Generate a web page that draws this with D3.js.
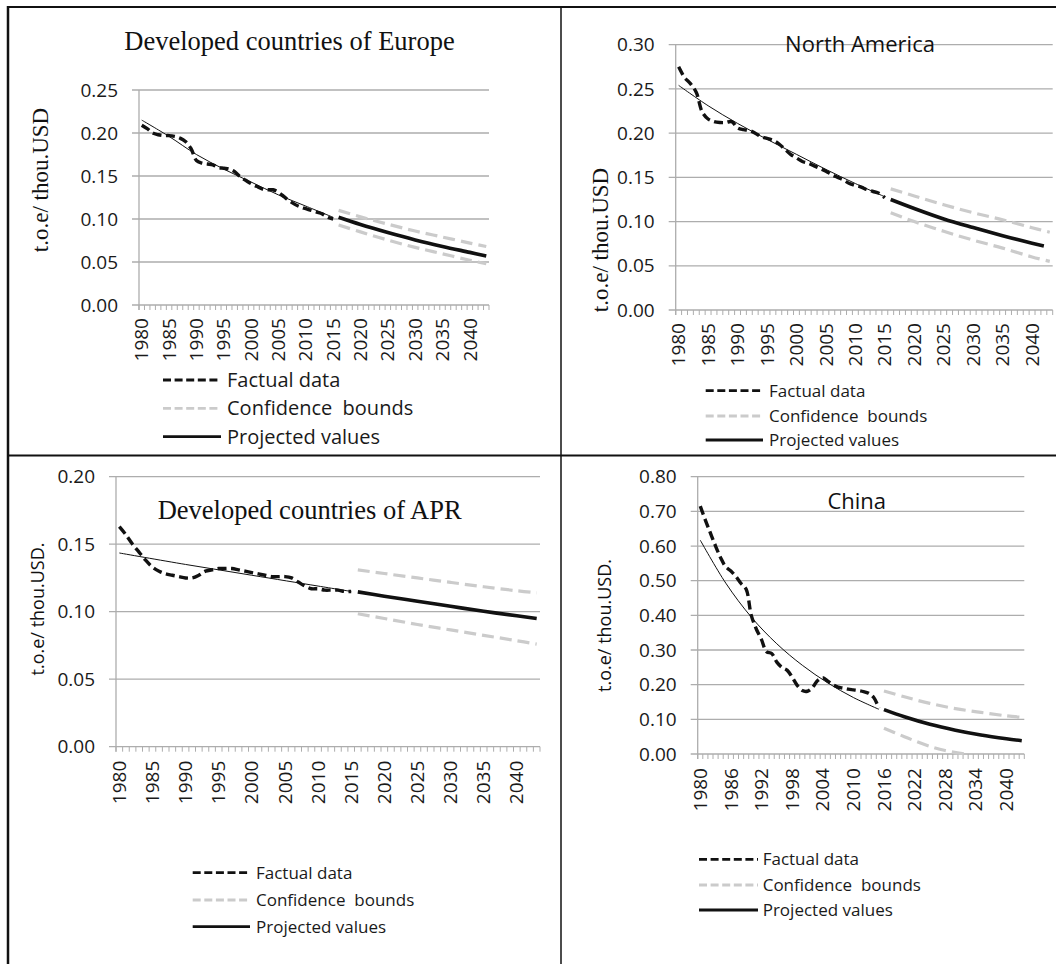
<!DOCTYPE html>
<html><head><meta charset="utf-8">
<script src="https://cdn.jsdelivr.net/npm/d3@7"></script>
<style>
body{margin:0;background:#fff}
svg{display:block}
text{font-family:"Open Sans",sans-serif;fill:#1a1a1a}
</style>
</head><body>
<svg id="chart" width="1056" height="964"></svg>
<script>
// ---------- data ----------
const categories = d3.range(1980, 2044);
const yearTicks5 = [1980,1985,1990,1995,2000,2005,2010,2015,2020,2025,2030,2035,2040];
const yearTicks6 = [1980,1986,1992,1998,2004,2010,2016,2022,2028,2034,2040];
const yTicksEurope = [0,0.05,0.10,0.15,0.20,0.25];
const yTicksNA = [0,0.05,0.10,0.15,0.20,0.25,0.30];
const yTicksAPR = [0,0.05,0.10,0.15,0.20];
const yTicksChina = [0,0.10,0.20,0.30,0.40,0.50,0.60,0.70,0.80];
const legendLabels = ["Factual data","Confidence  bounds","Projected values"];

// factual data, one value per year from 1980 to 2015
const europeFactual = [0.209,0.205,0.200,0.198,0.197,0.197,0.196,0.194,0.190,0.182,
  0.168,0.165,0.164,0.163,0.160,0.159,0.158,0.155,0.149,0.145,
  0.141,0.138,0.135,0.134,0.134,0.131,0.126,0.121,0.117,0.114,
  0.112,0.110,0.108,0.106,0.102,0.100];
const naFactual = [0.275,0.263,0.256,0.246,0.224,0.216,0.213,0.212,0.212,0.213,
  0.206,0.204,0.203,0.200,0.196,0.194,0.192,0.188,0.182,0.176,
  0.172,0.168,0.166,0.163,0.160,0.157,0.153,0.150,0.147,0.143,
  0.141,0.139,0.136,0.134,0.132,0.127];
const aprFactual = [0.163,0.157,0.150,0.144,0.138,0.133,0.130,0.128,0.127,0.126,
  0.125,0.125,0.127,0.130,0.131,0.132,0.132,0.132,0.131,0.130,
  0.129,0.128,0.127,0.126,0.126,0.126,0.125,0.122,0.119,0.117,
  0.117,0.116,0.116,0.116,0.115,0.115];
const chinaFactual = [0.715,0.675,0.637,0.600,0.566,0.540,0.528,0.512,0.492,0.475,
  0.400,0.360,0.330,0.295,0.290,0.265,0.250,0.242,0.222,0.198,
  0.183,0.181,0.192,0.212,0.220,0.210,0.200,0.193,0.190,0.187,
  0.185,0.183,0.180,0.175,0.163,0.132];

// fitted trend over the factual period [year, value]
const europeTrend = [[1980,0.215],[1985,0.196],[1990,0.175],[1995,0.158],[2000,0.143],[2005,0.128],[2010,0.115],[2015,0.102]];
const naTrend = [[1980,0.254],[1985,0.231],[1990,0.211],[1995,0.193],[2000,0.176],[2005,0.159],[2010,0.143],[2015,0.128]];
const aprTrend = [[1980,0.1435],[1990,0.135],[2000,0.127],[2010,0.119],[2015,0.115]];
const chinaTrend = [[1980,0.617],[1985,0.493],[1990,0.395],[1995,0.318],[2000,0.256],[2005,0.205],[2010,0.163],[2015,0.129]];

// projections and confidence bounds [year, value]
const europeProjected = [[2016,0.102],[2020,0.0936],[2025,0.0843],[2030,0.0757],[2035,0.0681],[2040,0.0612],[2043,0.057]];
const europeUpper = [[2016,0.110],[2020,0.1025],[2025,0.094],[2030,0.086],[2035,0.079],[2040,0.072],[2043,0.068]];
const europeLower = [[2016,0.093],[2020,0.085],[2025,0.0755],[2030,0.067],[2035,0.0595],[2040,0.052],[2043,0.048]];

const naProjected = [[2016,0.125],[2020,0.1148],[2025,0.103],[2030,0.0932],[2035,0.084],[2040,0.0755],[2042,0.0724]];
const naUpper = [[2016,0.137],[2020,0.129],[2025,0.119],[2030,0.110],[2035,0.102],[2040,0.093],[2043,0.088]];
const naLower = [[2016,0.110],[2020,0.100],[2025,0.089],[2030,0.079],[2035,0.070],[2040,0.060],[2043,0.055]];

const aprProjected = [[2016,0.1147],[2020,0.1115],[2025,0.1077],[2030,0.104],[2035,0.1003],[2040,0.097],[2043,0.095]];
const aprUpper = [[2016,0.131],[2020,0.1283],[2025,0.125],[2030,0.1217],[2035,0.1185],[2040,0.1155],[2043,0.114]];
const aprLower = [[2016,0.0985],[2020,0.095],[2025,0.0905],[2030,0.0865],[2035,0.0825],[2040,0.0785],[2043,0.076]];

const chinaProjected = [[2016,0.128],[2020,0.1073],[2025,0.0856],[2030,0.0687],[2035,0.0549],[2040,0.044],[2043,0.0384]];
const chinaUpper = [[2016,0.182],[2020,0.165],[2025,0.146],[2030,0.131],[2035,0.120],[2040,0.110],[2043,0.106]];
const chinaLower = [[2016,0.074],[2018,0.062],[2020,0.050],[2022,0.038],[2025,0.022],[2028,0.010],[2032,0.0]];

// ---------- drawing ----------
const svg = d3.select("#chart");
const SERIF = '"Liberation Serif","Times New Roman",serif';
const SANS = '"Open Sans",sans-serif';
const GRID = "#adadad";
const BOUND = "#cbcbcb";

function drawPanel(p) {
  const g = svg.append("g");
  const band = d3.scaleBand().domain(categories).range([p.x0, p.x1]);
  const x = d3.scalePoint().domain(categories).range([p.x0, p.x1]).padding(0.5);
  const y = d3.scaleLinear().domain([0, p.yMax]).range([p.yBot, p.yTop]);

  // gridlines + major ticks
  g.selectAll(".grid").data(p.yTicks).join("line")
    .attr("x1", p.x0 - 7).attr("x2", p.x1)
    .attr("y1", d => y(d)).attr("y2", d => y(d))
    .attr("stroke", GRID).attr("stroke-width", 1.3);
  // y axis line
  g.append("line").attr("x1", p.x0).attr("x2", p.x0)
    .attr("y1", y(p.yMax)).attr("y2", y(0) + 5)
    .attr("stroke", GRID).attr("stroke-width", 1.3);
  // minor category ticks
  const bounds = categories.map(c => band(c)).concat([p.x1]);
  g.selectAll(".mt").data(bounds).join("line")
    .attr("x1", d => d).attr("x2", d => d)
    .attr("y1", y(0)).attr("y2", y(0) + 5)
    .attr("stroke", GRID).attr("stroke-width", 1);
  // y tick labels
  g.selectAll(".yl").data(p.yTicks).join("text")
    .attr("x", p.x0 - 21).attr("y", d => y(d)).attr("dy", "0.35em")
    .attr("text-anchor", "end").style("font-size", "19px")
    .text(d => d3.format(".2f")(d));
  // x tick labels
  g.selectAll(".xl").data(p.xTicks).join("text")
    .attr("transform", d => `translate(${x(d)},${y(0) + p.xGap}) rotate(-90)`)
    .attr("dy", "0.35em").attr("text-anchor", "end").style("font-size", "19px")
    .text(d => d);

  const smooth = d3.line().x(d => x(d[0])).y(d => y(d[1])).curve(d3.curveCatmullRom.alpha(0.5));
  const factualPts = p.factual.map((v, i) => [categories[i], v]);

  // trend
  g.append("path").attr("d", smooth(p.trend)).attr("fill", "none")
    .attr("stroke", "#111").attr("stroke-width", 1);
  // factual
  g.append("path").attr("d", smooth(factualPts)).attr("fill", "none")
    .attr("stroke", "#111").attr("stroke-width", 3.4).attr("stroke-dasharray", "9,4.5");
  // bounds
  [p.upper, p.lower].forEach(b => {
    g.append("path").attr("d", smooth(b)).attr("fill", "none")
      .attr("stroke", BOUND).attr("stroke-width", 3.2).attr("stroke-dasharray", "12,6");
  });
  // projected
  g.append("path").attr("d", smooth(p.projected)).attr("fill", "none")
    .attr("stroke", "#111").attr("stroke-width", 3.6);

  // title
  g.append("text").attr("x", p.title.x).attr("y", p.title.y).attr("text-anchor", "middle")
    .style("font-family", p.title.font).style("font-size", p.title.size + "px").style("fill", "#111")
    .text(p.title.text);
  // y label
  g.append("text").attr("transform", `translate(${p.ylab.x},${p.ylab.y}) rotate(-90)`)
    .attr("text-anchor", "middle").attr("dy", "0.35em")
    .style("font-family", p.ylab.font).style("font-size", p.ylab.size + "px").style("fill", "#111")
    .text(p.ylab.text);

  // legend
  const styles = [
    {stroke: "#111", dash: "8,3.6"},
    {stroke: BOUND, dash: "8,3.6"},
    {stroke: "#111", dash: null}
  ];
  legendLabels.forEach((lab, i) => {
    const ry = p.legend.rows[i];
    const ln = g.append("line").attr("x1", p.legend.l0).attr("x2", p.legend.l1)
      .attr("y1", ry).attr("y2", ry).attr("stroke", styles[i].stroke).attr("stroke-width", 2.8);
    if (styles[i].dash) ln.attr("stroke-dasharray", styles[i].dash);
    g.append("text").attr("x", p.legend.tx).attr("y", ry).attr("dy", "0.35em")
      .style("font-size", p.legend.size + "px").style("white-space", "pre").text(lab);
  });
}

drawPanel({
  x0: 139, x1: 489, yTop: 90, yBot: 305, yMax: 0.25, yTicks: yTicksEurope, xTicks: yearTicks5, xGap: 13,
  factual: europeFactual, trend: europeTrend, projected: europeProjected, upper: europeUpper, lower: europeLower,
  title: {text: "Developed countries of Europe", x: 289.5, y: 50, font: SERIF, size: 26.5},
  ylab: {text: "t.o.e/ thou.USD", x: 40, y: 180, font: SERIF, size: 23},
  legend: {l0: 163, l1: 221, tx: 227, rows: [380, 408.3, 436.7], size: 20}
});
drawPanel({
  x0: 675.7, x1: 1052.7, yTop: 44.7, yBot: 310, yMax: 0.30, yTicks: yTicksNA, xTicks: yearTicks5, xGap: 13,
  factual: naFactual, trend: naTrend, projected: naProjected, upper: naUpper, lower: naLower,
  title: {text: "North America", x: 860, y: 51.7, font: SANS, size: 22},
  ylab: {text: "t.o.e/ thou.USD", x: 600, y: 240, font: SERIF, size: 23},
  legend: {l0: 705.7, l1: 763, tx: 769, rows: [390.7, 416, 440], size: 17}
});
drawPanel({
  x0: 116, x1: 540, yTop: 476.7, yBot: 746.7, yMax: 0.20, yTicks: yTicksAPR, xTicks: yearTicks5, xGap: 14,
  factual: aprFactual, trend: aprTrend, projected: aprProjected, upper: aprUpper, lower: aprLower,
  title: {text: "Developed countries of APR", x: 309.7, y: 519.3, font: SERIF, size: 26.5},
  ylab: {text: "t.o.e/ thou.USD.", x: 38, y: 609, font: SANS, size: 18},
  legend: {l0: 192.7, l1: 250, tx: 256, rows: [872.7, 900, 926.7], size: 17}
});
drawPanel({
  x0: 697.7, x1: 1024.3, yTop: 476.7, yBot: 754, yMax: 0.80, yTicks: yTicksChina, xTicks: yearTicks6, xGap: 14,
  factual: chinaFactual, trend: chinaTrend, projected: chinaProjected, upper: chinaUpper, lower: chinaLower,
  title: {text: "China", x: 856.7, y: 509, font: SANS, size: 22},
  ylab: {text: "t.o.e/ thou.USD.", x: 605, y: 625.5, font: SANS, size: 18},
  legend: {l0: 699, l1: 758, tx: 762.7, rows: [859.3, 885, 910], size: 17}
});

// frame lines
const frame = svg.append("g").attr("stroke", "#111");
frame.append("line").attr("x1", 8).attr("x2", 8).attr("y1", 6).attr("y2", 964).attr("stroke-width", 2.5);
frame.append("line").attr("x1", 7).attr("x2", 1056).attr("y1", 7).attr("y2", 7).attr("stroke-width", 2);
frame.append("line").attr("x1", 561).attr("x2", 561).attr("y1", 7).attr("y2", 964).attr("stroke-width", 1.5);
frame.append("line").attr("x1", 7).attr("x2", 1056).attr("y1", 455.5).attr("y2", 455.5).attr("stroke-width", 2);
</script>
</body></html>
